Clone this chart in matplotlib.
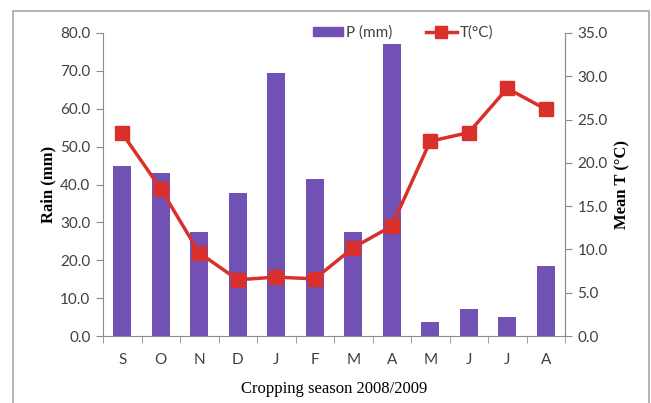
import matplotlib
matplotlib.use("Agg")
import matplotlib.pyplot as plt
import numpy as np
from matplotlib.patches import Rectangle
from matplotlib.lines import Line2D

months = ["S", "O", "N", "D", "J", "F", "M", "A", "M", "J", "J", "A"]
rain_mm = [45.0, 43.0, 27.4, 37.7, 69.4, 41.4, 27.4, 77.0, 3.6, 7.1, 5.0, 18.4]
temp_c = [23.4, 17.0, 9.6, 6.5, 6.8, 6.6, 10.2, 12.7, 22.5, 23.5, 28.6, 26.2]
rain_ticks = [0, 10, 20, 30, 40, 50, 60, 70, 80]
temp_ticks = [0, 5, 10, 15, 20, 25, 30, 35]

purple = "#7151b4"
red = "#d9302c"
gray = "#8c8c8c"
txt = "#404040"
sans = ["Lato", "DejaVu Sans"]
serif = ["Liberation Serif", "DejaVu Serif"]

fig = plt.figure(figsize=(6.51, 4.03), dpi=100)
fig.patches.append(Rectangle((13/651, -0.1), (649-13)/651, 1 - 11/403 + 0.1,
                             transform=fig.transFigure, fill=False,
                             edgecolor="#a8a8a8", linewidth=1.2))

ax = fig.add_axes([103/651, 1 - 336/403, (565-103)/651, (336-33)/403])
x = np.arange(len(months))
ax.bar(x, rain_mm, width=0.47, color=purple, zorder=2)
ax.set_xlim(-0.5, len(months) - 0.5)
ax.set_ylim(0, 80)
ax.set_yticks(rain_ticks)
ax.set_yticklabels([f"{v:.1f}" for v in rain_ticks], fontfamily=sans, fontsize=11, color=txt)
ax.set_xticks(x)
ax.set_xticklabels(months, fontfamily=sans, fontsize=11, color=txt)
ax.set_xticks(np.arange(-0.5, len(months)), minor=True)
ax.tick_params(axis="x", which="major", length=0, pad=12)
ax.tick_params(axis="x", which="minor", length=5, color=gray, direction="out")
ax.tick_params(axis="y", length=5, color=gray, pad=4)
for s in ["top"]:
    ax.spines[s].set_visible(False)
for s in ["left", "bottom", "right"]:
    ax.spines[s].set_color(gray)
ax.set_ylabel("Rain (mm)", fontfamily=serif, fontweight="bold", fontsize=12, labelpad=3)
ax.set_xlabel("Cropping season 2008/2009", fontfamily=serif, fontsize=12, labelpad=10)

ax2 = ax.twinx()
ax2.plot(x, temp_c, color=red, linewidth=2.5, marker="s", markersize=10, zorder=3)
ax2.set_ylim(0, 35)
ax2.set_yticks(temp_ticks)
ax2.set_yticklabels([f"{v:.1f}" for v in temp_ticks], fontfamily=sans, fontsize=11, color=txt)
ax2.tick_params(axis="y", length=5, color=gray, pad=4)
ax2.spines["top"].set_visible(False)
ax2.spines["right"].set_color(gray)
ax2.spines["left"].set_visible(False)
ax2.spines["bottom"].set_visible(False)
ax2.set_ylabel("Mean T (°C)", fontfamily=serif, fontweight="bold", fontsize=12, labelpad=5)

handles = [Rectangle((0, 0), 1, 1, color=purple),
           Line2D([], [], color=red, linewidth=2.5, marker="s", markersize=8)]
leg = ax2.legend(handles, ["P (mm)", "T(°C)"], ncol=2, frameon=False,
                 loc="center", bbox_to_anchor=((403 - 103) / 462, 1.0),
                 prop={"family": sans, "size": 11}, handlelength=2.0,
                 handletextpad=0.2, columnspacing=2.2, handleheight=0.5)
for t in leg.get_texts():
    t.set_color(txt)

fig.savefig("out.png", dpi=100)
